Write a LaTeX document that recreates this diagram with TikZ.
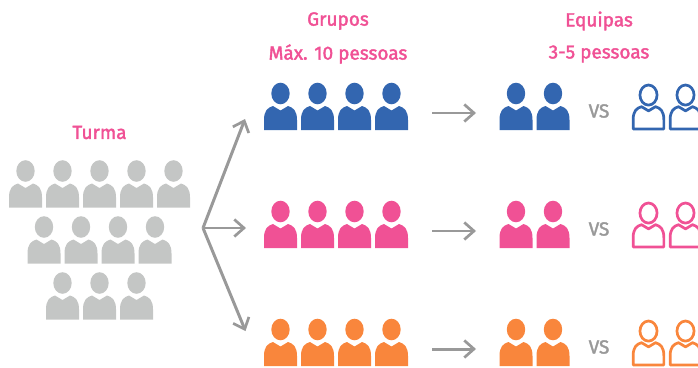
\documentclass[tikz,border=0pt]{standalone}
\usepackage{fontspec}
\setmainfont{Fira Sans}
\usetikzlibrary{arrows.meta,positioning}
\definecolor{myblue}{HTML}{3366B0}
\definecolor{mypink}{HTML}{F05195}
\definecolor{myorange}{HTML}{F9863C}
\definecolor{mygrey}{HTML}{C4C6C5}
\definecolor{myarrow}{HTML}{999999}
\tikzset{
    person/.pic={
        \path[pic actions] (0,-36.5) ellipse (9.2 and 10.8);
        \path[pic actions] (-16.5,0) -- (-16.5,-10) .. controls (-16.5,-19) and (-13,-22.5) .. (-7.5,-24)
            -- (0,-19.5) -- (7.5,-24) .. controls (13,-22.5) and (16.5,-19) .. (16.5,-10) -- (16.5,0) -- cycle;
    },
    solid person/.style={fill=#1},
    open person/.style={draw=#1,line width=0.95mm,line join=round,scale=0.93},
    title/.style={text=mypink,font=\fontsize{19}{22}\selectfont\addfontfeature{FakeBold=2}},
    versus/.style={text=myarrow,font=\fontsize{19}{22}\selectfont\addfontfeature{FakeBold=2}},
    arrow/.style={draw=myarrow,line width=1.05mm,-{Straight Barb[length=3.4mm,width=6mm,line width=0.95mm]}}
}
\begin{document}
\begin{tikzpicture}[x=1pt,y=-1pt]
    \useasboundingbox (0,0) rectangle (698,367);
    \clip (0,0) rectangle (698,367);
    % titles
    \node[title] (turma) at (99.5,132.5) {Turma};
    \node[title] (grupos) at (338,21) {Grupos};
    \node[title] (grupos max) at (338,54) {Máx. 10 pessoas};
    \node[title] (equipas) at (599,21) {Equipas};
    \node[title] (equipas max) at (599,54) {3-5 pessoas};
    % class
    \foreach \x in {25.5,62.5,99.5,136.5,173.5} \pic[solid person=mygrey] at (\x,207.5) {person};
    \foreach \x in {44,81,118,155} \pic[solid person=mygrey] at (\x,263.5) {person};
    \foreach \x in {62.5,99.5,136.5} \pic[solid person=mygrey] at (\x,319.5) {person};
    % groups and teams
    \foreach \col/\y/\name in {myblue/130/a,mypink/248/b,myorange/366/c} {
        \foreach \x in {280.5,317.5,354.5,391.5,516,553} \pic[solid person=\col] at (\x,\y) {person};
        \foreach \x in {648.5,685.5} \pic[open person=\col] at (\x,\y-1) {person};
        \node[versus] (vs \name) at (599,\y-19) {VS};
        \coordinate (from \name) at (432,\y-17);
        \coordinate (to \name) at (476,\y-17);
        \draw[arrow] (from \name) -- (to \name);
    }
    % arrows out of the class
    \coordinate (fan) at (203,228);
    \coordinate (fan a) at (245,119);
    \coordinate (fan b) at (246,228);
    \coordinate (fan c) at (245.5,331);
    \draw[arrow] (fan) -- (fan a);
    \draw[arrow] (fan) -- (fan b);
    \draw[arrow] (fan) -- (fan c);
\end{tikzpicture}
\end{document}
